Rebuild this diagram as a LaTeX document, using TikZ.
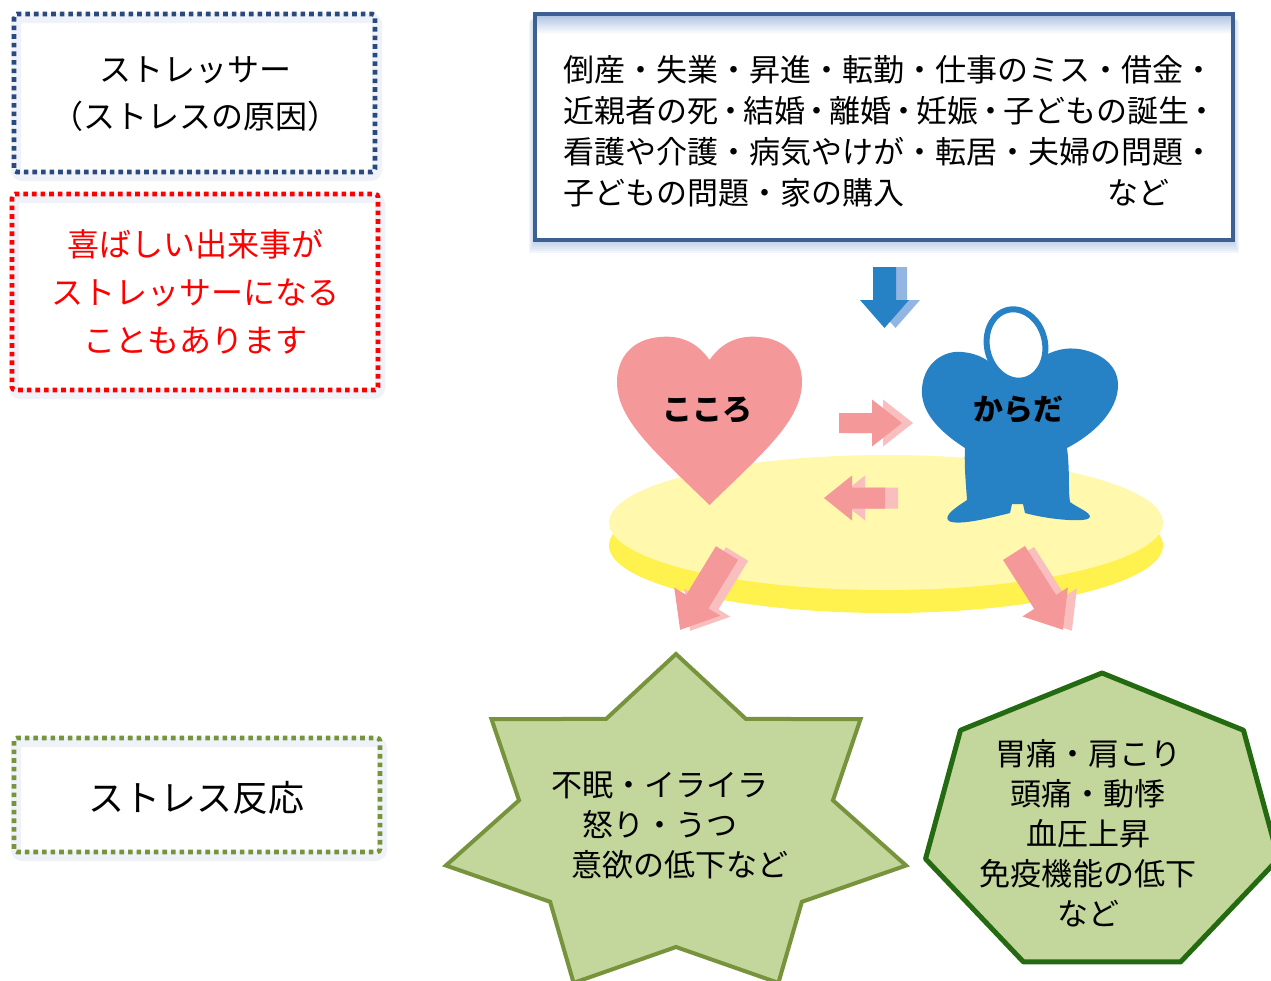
\documentclass[tikz,border=0pt]{standalone}
\usepackage{fontspec}
\setmainfont{Noto Sans CJK JP}
\definecolor{navy}{HTML}{2A4A7F}
\definecolor{frameblue}{HTML}{3E5F92}
\definecolor{haze}{HTML}{9FB8DC}
\definecolor{jred}{HTML}{FF0000}
\definecolor{olive}{HTML}{77933C}
\definecolor{leaf}{HTML}{C3D69B}
\definecolor{forest}{HTML}{236A10}
\definecolor{salmon}{HTML}{F4989A}
\definecolor{blush}{HTML}{F9BFBF}
\definecolor{bodyblue}{HTML}{2782C5}
\definecolor{skyshade}{HTML}{92B5E1}
\definecolor{cream}{HTML}{FFF8AD}
\definecolor{lemon}{HTML}{FFF24F}
% block arrow: colour, start, angle, length, head length, shaft half width, head half width
\newcommand\fatarrow[7]{%
  \fill[#1,shift={(#2)},rotate=#3]
    (0,-#6) -- ({#4-#5},-#6) -- ({#4-#5},-#7) -- (#4,0)
    -- ({#4-#5},#7) -- ({#4-#5},#6) -- (0,#6) -- cycle;}
% narrower separator dot
\newcommand\tightdot{\makebox[0.8em]{・}}
\begin{document}
\begin{tikzpicture}[x=1pt,y=-1pt,
  dotbox/.style={line width=4.6pt,dash pattern=on 4.6pt off 4pt,rounded corners=3pt},
  halo/.style={draw=haze,line width=10pt,opacity=0.16,rounded corners=6pt},
  label/.style={inner sep=0pt,align=center},
  badge/.style={inner sep=0pt,font=\bfseries\fontsize{30}{30}\selectfont}]
\useasboundingbox (0,0) rectangle (1271,980);
\fill[white] (0,0) rectangle (1271,980);

% left legend boxes
\draw[halo] (16,18) rectangle (377,176);
\draw[dotbox,navy] (14,14) rectangle (375,172);
\node[label,font=\fontsize{32}{47}\selectfont] (stressor) at (195,94)
  {ストレッサー\\（ストレスの原因）};

\draw[halo] (14,198) rectangle (380,394);
\draw[dotbox,jred] (12,194) rectangle (378,390);
\node[label,text=jred,font=\fontsize{32}{48}\selectfont] (joy) at (195,292)
  {喜ばしい出来事が\\ストレッサーになる\\こともあります};

\draw[halo] (16,742) rectangle (382,856);
\draw[dotbox,olive] (14,738) rectangle (380,852);
\node[label,font=\fontsize{36}{40}\selectfont] (reaction) at (196,798) {ストレス反応};

% list of stressors with soft glow
\foreach \i in {1,...,6}
  \fill[haze,opacity=0.13] (535-\i,15+\i) rectangle (1233+\i,241+2*\i);
\fill[white] (535,14) rectangle (1233,240);
\shade[top color=haze!80,bottom color=white] (537,16) rectangle (1231,34);
\draw[frameblue,line width=4.5pt] (535,14) rectangle (1233,240);
\node[inner sep=0pt,align=left,anchor=west,font=\fontsize{31}{41}\selectfont] (events) at (563,131)
  {倒産・失業・昇進・転勤・仕事のミス・借金・\\
   近親者の死\tightdot 結婚\tightdot 離婚\tightdot 妊娠\tightdot 子どもの誕生\tightdot\\
   看護や介護・病気やけが・転居・夫婦の問題・\\
   子どもの問題・家の購入\hspace{203pt}など};

% platform
\fill[lemon] (886,545.5) ellipse [x radius=277,y radius=67.5];
\fill[cream] (886,522.5) ellipse [x radius=277,y radius=67.5];

% heart (mind)
\fill[salmon] (709.5,360)
  .. controls (697,342) and (680,335) .. (660,337)
  .. controls (632,339) and (617,358) .. (617,382)
  .. controls (617,420) and (655,452) .. (709.5,505)
  .. controls (764,452) and (802,420) .. (802,382)
  .. controls (802,358) and (787,339) .. (759,337)
  .. controls (739,335) and (722,342) .. (709.5,360) -- cycle;
\node[badge] (mind) at (707.5,410) {こころ};

% body figure
\fill[bodyblue] (965,448)
  .. controls (940,432) and (920,412) .. (922,388)
  .. controls (924,362) and (945,350) .. (962,352)
  .. controls (975,353) and (985,358) .. (992,364)
  -- (1044,356)
  .. controls (1058,348) and (1072,347) .. (1084,350)
  .. controls (1105,355) and (1118,368) .. (1118,385)
  .. controls (1118,412) and (1092,435) .. (1067,448)
  .. controls (1070,470) and (1068,490) .. (1070,502)
  .. controls (1078,508) and (1090,512) .. (1090,517)
  .. controls (1089,523) and (1050,520) .. (1025,513)
  -- (1023,504) -- (1012,504) -- (1010,513)
  .. controls (990,518) and (958,526) .. (949,521)
  .. controls (942,516) and (958,506) .. (967,500)
  .. controls (966,485) and (964,465) .. (965,448) -- cycle;
\draw[bodyblue,line width=6pt,fill=white,rotate around={13:(1016,345)}]
  (1016,345) ellipse [x radius=29,y radius=36];
\node[badge] (body) at (1018,410) {からだ};

% arrows between mind and body
\fatarrow{blush}{850,423}{0}{63}{30}{10}{23.5}
\fatarrow{salmon}{839,423}{0}{63}{30}{10}{23.5}
\fatarrow{blush}{898,498}{180}{61}{28}{10.5}{22.5}
\fatarrow{salmon}{885,498}{180}{61}{28}{10.5}{22.5}

% arrows down to the reactions
\fatarrow{blush}{737,554}{-121.4}{90}{33}{13}{27}
\fatarrow{salmon}{727,553}{-121.4}{90}{33}{13}{27}
\fatarrow{blush}{1023,554}{-57.5}{91}{33}{13}{27}
\fatarrow{salmon}{1014,553}{-57.5}{91}{33}{13}{27}

% stressors arrow
\fatarrow{skyshade}{895.5,267}{-90}{61}{28}{11.5}{24.5}
\fatarrow{bodyblue}{884.5,267}{-90}{61}{28}{11.5}{24.5}

% mental reactions: seven-pointed star
\draw[fill=leaf,draw=olive,line width=4pt] (676,654)
  \foreach \k in {1,...,7} {
    -- ({676+161*cos(90+(\k-0.5)*360/7)},{827-120*sin(90+(\k-0.5)*360/7)})
    -- ({676+236*cos(90+\k*360/7)},{827-173*sin(90+\k*360/7)}) } -- cycle;
\node[label,font=\fontsize{31}{40}\selectfont] (mental) at (660,825)
  {不眠・イライラ\\怒り・うつ\\\hspace*{40pt}意欲の低下など};

% physical reactions: heptagon
\draw[fill=leaf,draw=forest,line width=5pt,line join=round] (1102,673)
  \foreach \k in {1,...,6} {
    -- ({1102+181*cos(90+\k*360/7)},{825-152*sin(90+\k*360/7)}) } -- cycle;
\node[label,font=\fontsize{31}{40}\selectfont] (physical) at (1088,833)
  {胃痛・肩こり\\頭痛・動悸\\血圧上昇\\免疫機能の低下\\など};
\end{tikzpicture}
\end{document}
